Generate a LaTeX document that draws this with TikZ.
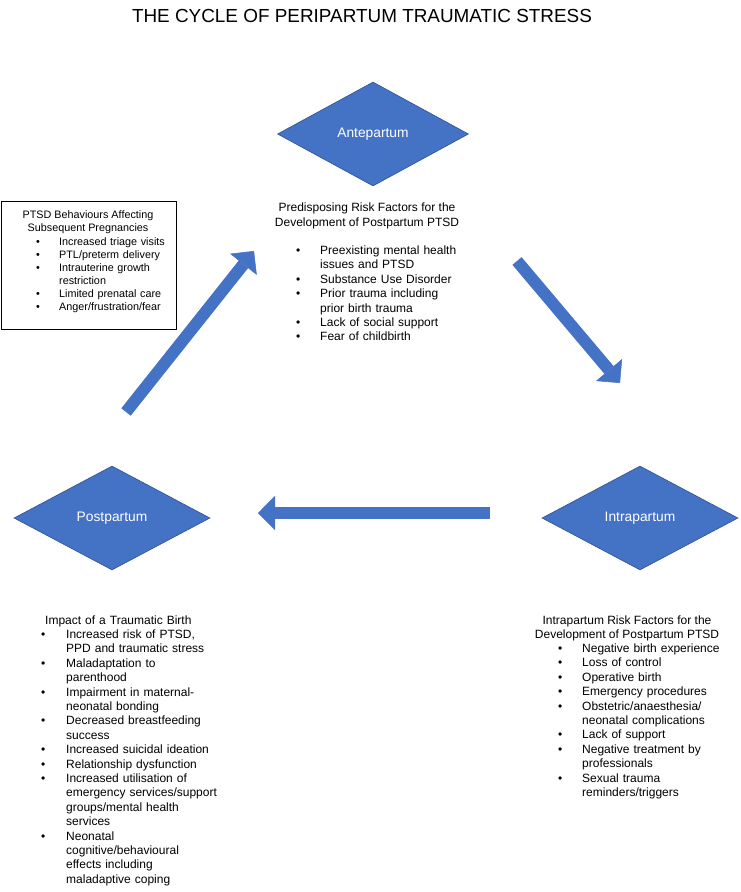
\documentclass[tikz,border=0pt]{standalone}
\usepackage{fontspec}
\setmainfont{Liberation Sans}
\usetikzlibrary{shapes.geometric,arrows.meta,positioning}
\definecolor{diamblue}{HTML}{4472C4}
\definecolor{diamedge}{HTML}{2F528F}

% bullet line and continuation line
\newcommand\bitem[2][24pt]{\makebox[#1][l]{\textbullet}#2}
\newcommand\bcont[2][24pt]{\hspace*{#1}#2}

\tikzset{
  phase/.style={diamond, fill=diamblue, draw=diamedge, line width=0.6pt,
    text=white, inner sep=0pt, minimum width=196pt, minimum height=104pt,
    font=\fontsize{13.8}{16}\selectfont},
  head/.style={align=center, inner sep=0pt, font=\fontsize{12}{14.4}\selectfont},
  items/.style={align=left, text width=210pt, inner sep=0pt, anchor=north west,
    font=\fontsize{12}{14.4}\selectfont},
  flow/.style={draw=diamblue, line width=12pt,
    -{Triangle[width=34pt,length=17pt,line width=0.5pt]}},
}

\begin{document}
\begin{tikzpicture}[x=1pt,y=-1pt]
\useasboundingbox (0,0) rectangle (740,892);

\node[font=\fontsize{18.9}{22}\selectfont] (title) at (362,16)
  {THE CYCLE OF PERIPARTUM TRAUMATIC STRESS};

% the three phases
\node[phase, minimum width=191pt] (ante) at (373,134) {Antepartum};
\node[phase] (intra) at (640,518) {Intrapartum};
\node[phase] (post) at (112,518) {Postpartum};

% arrows between the phases
\coordinate (a1) at (517,261);
\coordinate (a2) at (620,383);
\coordinate (b1) at (490,513);
\coordinate (b2) at (258,513);
\coordinate (c1) at (126,412);
\coordinate (c2) at (254,251);
\draw[flow] (a1) -- (a2);
\draw[flow] (b1) -- (b2);
\draw[flow] (c1) -- (c2);

% antepartum risk factors
\node[head] (antehead) at (367,216)
  {Predisposing Risk Factors for the\\Development of Postpartum PTSD};
\node[items] (antelist) at (296,245.5) {%
  \bitem{Preexisting mental health}\\
  \bcont{issues and PTSD}\\
  \bitem{Substance Use Disorder}\\
  \bitem{Prior trauma including}\\
  \bcont{prior birth trauma}\\
  \bitem{Lack of social support}\\
  \bitem{Fear of childbirth}};

% intrapartum risk factors
\node[head] (intrahead) at (627,628.5)
  {Intrapartum Risk Factors for the\\Development of Postpartum PTSD};
\node[items] (intralist) at (558,643.5) {%
  \bitem{Negative birth experience}\\
  \bitem{Loss of control}\\
  \bitem{Operative birth}\\
  \bitem{Emergency procedures}\\
  \bitem{Obstetric/anaesthesia/}\\
  \bcont{neonatal complications}\\
  \bitem{Lack of support}\\
  \bitem{Negative treatment by}\\
  \bcont{professionals}\\
  \bitem{Sexual trauma}\\
  \bcont{reminders/triggers}};

% impact of a traumatic birth
\node[items] (posthead) at (45,615.5) {Impact of a Traumatic Birth};
\node[items] (postlist) at (41,629.5) {%
  \bitem[25pt]{Increased risk of PTSD,}\\
  \bcont[25pt]{PPD and traumatic stress}\\
  \bitem[25pt]{Maladaptation to}\\
  \bcont[25pt]{parenthood}\\
  \bitem[25pt]{Impairment in maternal-}\\
  \bcont[25pt]{neonatal bonding}\\
  \bitem[25pt]{Decreased breastfeeding}\\
  \bcont[25pt]{success}\\
  \bitem[25pt]{Increased suicidal ideation}\\
  \bitem[25pt]{Relationship dysfunction}\\
  \bitem[25pt]{Increased utilisation of}\\
  \bcont[25pt]{emergency services/support}\\
  \bcont[25pt]{groups/mental health}\\
  \bcont[25pt]{services}\\
  \bitem[25pt]{Neonatal}\\
  \bcont[25pt]{cognitive/behavioural}\\
  \bcont[25pt]{effects including}\\
  \bcont[25pt]{maladaptive coping}};

% subsequent pregnancies box
\node[draw, line width=0.6pt, inner sep=0pt, anchor=north west,
  minimum width=175pt, minimum height=128pt] (ptsdbox) at (1,201) {};
\node[head, font=\fontsize{10.8}{13}\selectfont] (boxhead) at (88,222.5)
  {PTSD Behaviours Affecting\\Subsequent Pregnancies};
\node[items, font=\fontsize{10.8}{13}\selectfont] (boxlist) at (36,237.5) {%
  \bitem[23pt]{Increased triage visits}\\
  \bitem[23pt]{PTL/preterm delivery}\\
  \bitem[23pt]{Intrauterine growth}\\
  \bcont[23pt]{restriction}\\
  \bitem[23pt]{Limited prenatal care}\\
  \bitem[23pt]{Anger/frustration/fear}};
\end{tikzpicture}
\end{document}
